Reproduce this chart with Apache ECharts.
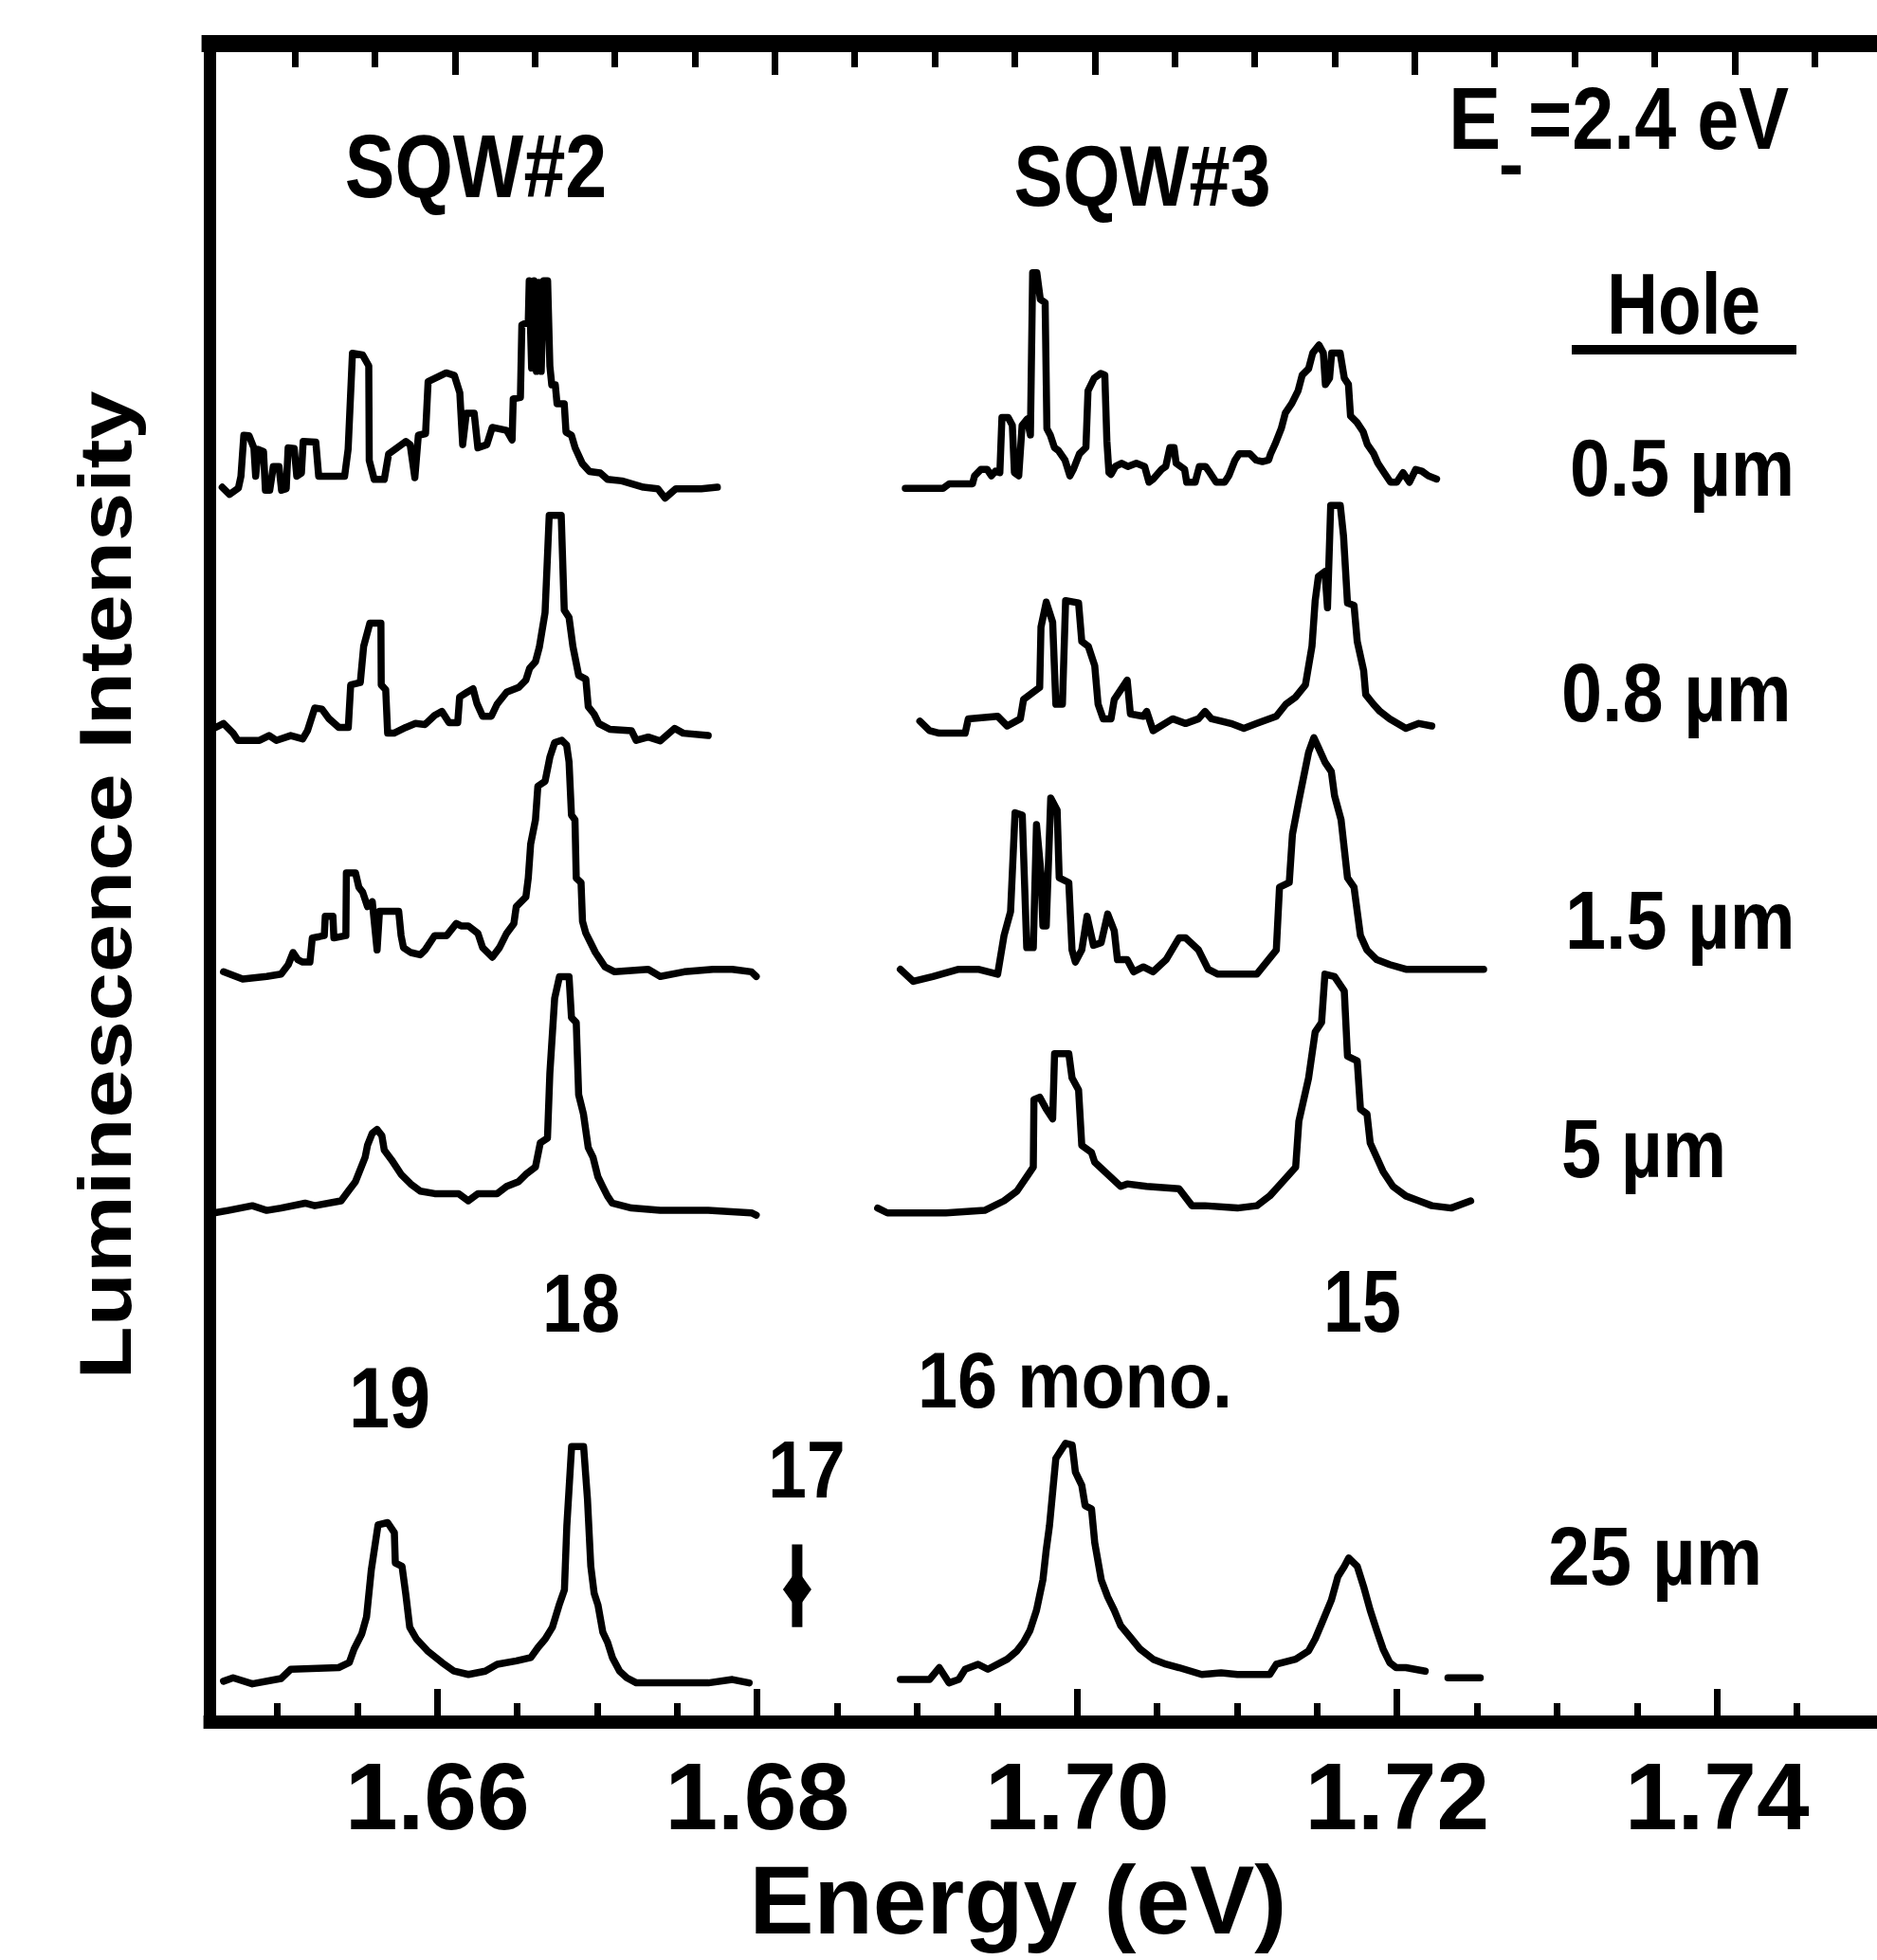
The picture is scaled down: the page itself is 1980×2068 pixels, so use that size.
<!DOCTYPE html>
<html>
<head>
<meta charset="utf-8">
<title>Luminescence spectra – SQW#2 / SQW#3</title>
<script src="https://cdn.jsdelivr.net/npm/echarts@6/dist/echarts.min.js"></script>
<style>
  html, body { margin: 0; padding: 0; background: #fff; }
  #chart { width: 1980px; height: 2068px; }
</style>
</head>
<body>
<div id="chart"></div>
<script>
// ---------------------------------------------------------------
// Spectra: [energy (eV), intensity above the row baseline (a.u.)]
// ---------------------------------------------------------------
const holeSizes = ['0.5 µm', '0.8 µm', '1.5 µm', '5 µm', '25 µm'];
const rowOffsets = [73.45, 58.9, 44.6, 30.3, 2.25];

const sqw2_05 = [
  [1.64656, 0.09], [1.64701, -0.34], [1.64757, 0.04], [1.64773, 0.75], [1.64791, 3.19],
  [1.64824, 3.16], [1.64854, 2.44], [1.64865, 0.75], [1.64881, 2.35], [1.64914, 2.22],
  [1.64926, -0.09], [1.64953, -0.09], [1.64975, 1.32], [1.65011, 1.32], [1.65027, -0.09],
  [1.65056, 0.0], [1.65068, 2.44], [1.65106, 2.40], [1.65122, 0.75], [1.65151, 0.94],
  [1.65162, 2.82], [1.65241, 2.78], [1.65259, 0.75], [1.65421, 0.75], [1.65443, 2.35],
  [1.65470, 8.08], [1.65533, 7.99], [1.65572, 7.33], [1.65575, 1.69], [1.65606, 0.56],
  [1.65669, 0.56], [1.65696, 2.07], [1.65804, 2.82], [1.65831, 2.63], [1.65860, 0.66],
  [1.65882, 3.19], [1.65927, 3.29], [1.65943, 6.39], [1.66056, 6.91], [1.66107, 6.76],
  [1.66141, 5.73], [1.66159, 2.63], [1.66182, 4.51], [1.66231, 4.51], [1.66254, 2.44],
  [1.66310, 2.63], [1.66344, 3.66], [1.66434, 3.48], [1.66468, 2.91], [1.66475, 5.36],
  [1.66520, 5.45], [1.66529, 9.77], [1.66569, 9.96], [1.66575, 12.40], [1.66590, 7.20],
  [1.66605, 12.40], [1.66620, 7.00], [1.66635, 12.30], [1.66650, 7.00], [1.66665, 12.40],
  [1.66690, 12.40], [1.66704, 7.33], [1.66716, 6.20], [1.66738, 6.20], [1.66749, 5.07],
  [1.66794, 5.07], [1.66805, 3.38], [1.66839, 3.19], [1.66862, 2.44], [1.66907, 1.50],
  [1.66952, 1.03], [1.67019, 0.94], [1.67064, 0.56], [1.67154, 0.47], [1.67289, 0.09],
  [1.67379, 0.0], [1.67424, -0.56], [1.67492, 0.0], [1.67650, 0.0], [1.67751, 0.09]
];

const sqw3_05 = [
  [1.68926, 0.02], [1.69162, 0.02], [1.69201, 0.30], [1.69346, 0.30], [1.69359, 0.77],
  [1.69398, 1.15], [1.69438, 1.15], [1.69464, 0.77], [1.69490, 1.05], [1.69517, 0.96],
  [1.69530, 4.25], [1.69569, 4.25], [1.69595, 3.78], [1.69608, 0.96], [1.69635, 0.77],
  [1.69656, 3.78], [1.69687, 4.15], [1.69708, 3.21], [1.69722, 12.89], [1.69748, 12.89],
  [1.69770, 11.29], [1.69800, 11.10], [1.69811, 3.59], [1.69832, 3.21], [1.69858, 2.46],
  [1.69884, 2.27], [1.69924, 1.71], [1.69955, 0.77], [1.69976, 1.15], [1.70015, 2.09],
  [1.70055, 2.46], [1.70068, 5.84], [1.70107, 6.60], [1.70147, 6.88], [1.70173, 6.78],
  [1.70186, 2.84], [1.70199, 0.96], [1.70212, 0.86], [1.70239, 1.33], [1.70278, 1.52],
  [1.70317, 1.33], [1.70370, 1.52], [1.70422, 1.33], [1.70449, 0.39], [1.70475, 0.58],
  [1.70528, 1.15], [1.70554, 1.33], [1.70580, 2.46], [1.70606, 2.46], [1.70619, 1.52],
  [1.70672, 1.15], [1.70685, 0.39], [1.70738, 0.39], [1.70764, 1.33], [1.70803, 1.33],
  [1.70830, 0.96], [1.70869, 0.39], [1.70922, 0.39], [1.70948, 0.77], [1.70987, 1.71],
  [1.71013, 2.09], [1.71079, 2.09], [1.71118, 1.71], [1.71158, 1.62], [1.71197, 1.71],
  [1.71210, 2.09], [1.71237, 2.65], [1.71276, 3.59], [1.71302, 4.53], [1.71342, 5.09],
  [1.71381, 5.84], [1.71407, 6.78], [1.71447, 7.16], [1.71473, 8.10], [1.71512, 8.57],
  [1.71539, 8.10], [1.71552, 6.22], [1.71578, 6.60], [1.71591, 8.10], [1.71644, 8.10],
  [1.71670, 6.60], [1.71696, 6.22], [1.71709, 4.34], [1.71749, 3.96], [1.71788, 3.40],
  [1.71814, 2.65], [1.71854, 2.09], [1.71880, 1.52], [1.71919, 0.96], [1.71959, 0.39],
  [1.71998, 0.39], [1.72037, 0.96], [1.72077, 0.39], [1.72116, 1.15], [1.72155, 1.05],
  [1.72195, 0.77], [1.72247, 0.58]
];

const sqw2_08 = [
  [1.64604, 0.26], [1.64664, 0.55], [1.64724, -0.03], [1.64754, -0.46], [1.64889, -0.46],
  [1.64949, -0.17], [1.64994, -0.46], [1.65084, -0.17], [1.65159, -0.37], [1.65189, 0.12],
  [1.65234, 1.47], [1.65279, 1.41], [1.65324, 0.83], [1.65384, 0.32], [1.65444, 0.32],
  [1.65459, 2.85], [1.65519, 2.99], [1.65540, 5.15], [1.65579, 6.53], [1.65648, 6.53],
  [1.65650, 2.85], [1.65678, 2.56], [1.65690, -0.03], [1.65729, -0.03], [1.65804, 0.32],
  [1.65864, 0.55], [1.65924, 0.49], [1.65984, 1.04], [1.66029, 1.27], [1.66074, 0.60],
  [1.66128, 0.60], [1.66140, 2.13], [1.66188, 2.42], [1.66224, 2.62], [1.66248, 1.75],
  [1.66284, 0.98], [1.66338, 0.98], [1.66374, 1.70], [1.66434, 2.42], [1.66509, 2.70],
  [1.66554, 3.13], [1.66578, 3.85], [1.66614, 4.23], [1.66638, 5.09], [1.66674, 7.16],
  [1.66700, 12.97], [1.66775, 12.97], [1.66794, 7.31], [1.66824, 6.87], [1.66848, 5.15],
  [1.66884, 3.42], [1.66929, 3.19], [1.66944, 1.55], [1.66980, 1.12], [1.67010, 0.55],
  [1.67079, 0.20], [1.67214, 0.12], [1.67244, -0.46], [1.67319, -0.26], [1.67394, -0.49],
  [1.67484, 0.26], [1.67538, -0.03], [1.67694, -0.17]
];

const sqw3_08 = [
  [1.69017, 0.69], [1.69077, 0.12], [1.69138, -0.03], [1.69300, -0.03], [1.69320, 0.83],
  [1.69503, 0.98], [1.69563, 0.40], [1.69645, 0.83], [1.69665, 1.98], [1.69726, 2.42],
  [1.69766, 2.70], [1.69774, 6.30], [1.69807, 7.79], [1.69847, 6.59], [1.69867, 1.70],
  [1.69908, 1.70], [1.69928, 7.88], [1.70009, 7.74], [1.70029, 5.44], [1.70070, 5.15],
  [1.70110, 4.00], [1.70131, 1.70], [1.70163, 0.83], [1.70212, 0.83], [1.70232, 1.98],
  [1.70313, 3.13], [1.70333, 1.12], [1.70414, 0.98], [1.70435, 1.27], [1.70475, 0.12],
  [1.70597, 0.83], [1.70678, 0.55], [1.70759, 0.83], [1.70799, 1.27], [1.70840, 0.83],
  [1.70961, 0.55], [1.71042, 0.26], [1.71123, 0.55], [1.71245, 0.98], [1.71305, 1.70],
  [1.71366, 2.13], [1.71427, 2.85], [1.71468, 5.15], [1.71488, 7.88], [1.71508, 9.32],
  [1.71549, 9.61], [1.71565, 7.45], [1.71585, 13.55], [1.71645, 13.55], [1.71665, 11.76],
  [1.71690, 7.74], [1.71731, 7.59], [1.71751, 5.44], [1.71791, 3.71], [1.71804, 2.27],
  [1.71852, 1.70], [1.71893, 1.27], [1.71954, 0.83], [1.72055, 0.26], [1.72136, 0.55],
  [1.72217, 0.40]
];

const sqw2_15 = [
  [1.64664, 0.04], [1.64784, -0.39], [1.64934, -0.24], [1.65024, -0.10], [1.65069, 0.47],
  [1.65099, 1.19], [1.65129, 0.76], [1.65159, 0.62], [1.65204, 0.62], [1.65219, 2.06],
  [1.65264, 2.14], [1.65294, 2.20], [1.65300, 3.35], [1.65348, 3.35], [1.65354, 2.06],
  [1.65429, 2.20], [1.65432, 5.94], [1.65489, 5.94], [1.65510, 5.08], [1.65534, 4.79],
  [1.65564, 3.93], [1.65594, 4.22], [1.65624, 1.34], [1.65639, 3.65], [1.65759, 3.65],
  [1.65774, 2.20], [1.65789, 1.48], [1.65834, 1.19], [1.65894, 1.05], [1.65924, 1.34],
  [1.65984, 2.20], [1.66059, 2.20], [1.66119, 2.92], [1.66149, 2.78], [1.66194, 2.78],
  [1.66254, 2.34], [1.66284, 1.48], [1.66344, 0.91], [1.66389, 1.48], [1.66434, 2.34],
  [1.66479, 2.92], [1.66494, 3.93], [1.66554, 4.50], [1.66569, 5.63], [1.66584, 7.66],
  [1.66614, 9.10], [1.66629, 11.11], [1.66674, 11.40], [1.66704, 12.84], [1.66734, 13.71],
  [1.66779, 13.85], [1.66809, 13.56], [1.66824, 12.55], [1.66839, 9.39], [1.66861, 9.10],
  [1.66869, 5.63], [1.66899, 5.36], [1.66908, 3.06], [1.66929, 2.34], [1.66959, 1.77],
  [1.66989, 1.19], [1.67019, 0.76], [1.67049, 0.33], [1.67109, 0.04], [1.67319, 0.19],
  [1.67394, -0.24], [1.67544, 0.04], [1.67724, 0.19], [1.67844, 0.19], [1.67964, 0.04],
  [1.67994, -0.24]
];

const sqw3_15 = [
  [1.68895, 0.19], [1.68976, -0.53], [1.69098, -0.24], [1.69260, 0.19], [1.69381, 0.19],
  [1.69503, -0.10], [1.69543, 2.20], [1.69584, 3.64], [1.69612, 9.53], [1.69657, 9.39],
  [1.69685, 1.48], [1.69726, 1.48], [1.69746, 8.82], [1.69774, 5.94], [1.69786, 2.78],
  [1.69807, 2.78], [1.69835, 10.40], [1.69875, 9.68], [1.69888, 5.65], [1.69948, 5.36],
  [1.69968, 1.34], [1.69989, 0.62], [1.70029, 1.34], [1.70062, 3.35], [1.70102, 1.62],
  [1.70150, 1.77], [1.70191, 3.49], [1.70232, 2.49], [1.70252, 0.76], [1.70313, 0.76],
  [1.70353, 0.04], [1.70414, 0.33], [1.70475, 0.04], [1.70556, 0.76], [1.70637, 2.06],
  [1.70678, 2.06], [1.70759, 1.34], [1.70819, 0.19], [1.70880, -0.10], [1.71123, -0.10],
  [1.71184, 0.62], [1.71245, 1.34], [1.71265, 5.08], [1.71326, 5.36], [1.71346, 8.24],
  [1.71386, 10.25], [1.71447, 13.13], [1.71480, 14.00], [1.71508, 13.42], [1.71549, 12.55],
  [1.71589, 11.98], [1.71609, 10.54], [1.71650, 9.10], [1.71690, 5.65], [1.71731, 5.08],
  [1.71771, 2.20], [1.71812, 1.34], [1.71873, 0.76], [1.71954, 0.47], [1.72055, 0.19],
  [1.72217, 0.19], [1.72541, 0.19]
];

const sqw2_5 = [
  [1.64604, -0.04], [1.64694, 0.11], [1.64844, 0.39], [1.64934, 0.11], [1.65024, 0.25],
  [1.65174, 0.54], [1.65234, 0.39], [1.65399, 0.68], [1.65444, 1.26], [1.65489, 1.83],
  [1.65519, 2.55], [1.65549, 3.27], [1.65564, 3.99], [1.65594, 4.71], [1.65624, 4.94],
  [1.65654, 4.56], [1.65669, 3.70], [1.65714, 3.13], [1.65774, 2.26], [1.65834, 1.69],
  [1.65894, 1.26], [1.65984, 1.11], [1.66134, 1.11], [1.66194, 0.68], [1.66254, 1.11],
  [1.66374, 1.11], [1.66434, 1.54], [1.66509, 1.83], [1.66554, 2.26], [1.66614, 2.70],
  [1.66644, 4.13], [1.66689, 4.42], [1.66704, 8.30], [1.66734, 12.76], [1.66764, 14.05],
  [1.66824, 14.05], [1.66839, 11.61], [1.66869, 11.32], [1.66884, 7.01], [1.66914, 5.86],
  [1.66944, 3.85], [1.66974, 3.27], [1.67004, 2.12], [1.67034, 1.54], [1.67064, 0.97],
  [1.67094, 0.54], [1.67214, 0.25], [1.67394, 0.11], [1.67694, 0.11], [1.67964, -0.04],
  [1.67994, -0.18]
];

const sqw3_5 = [
  [1.68753, 0.25], [1.68814, -0.04], [1.68976, -0.04], [1.69179, -0.04], [1.69422, 0.11],
  [1.69543, 0.68], [1.69624, 1.26], [1.69685, 2.12], [1.69726, 2.69], [1.69730, 6.72],
  [1.69766, 6.86], [1.69807, 6.15], [1.69847, 5.57], [1.69859, 9.45], [1.69948, 9.45],
  [1.69968, 8.01], [1.70009, 7.29], [1.70029, 3.99], [1.70090, 3.56], [1.70110, 2.98],
  [1.70191, 2.26], [1.70272, 1.54], [1.70313, 1.69], [1.70434, 1.54], [1.70637, 1.40],
  [1.70718, 0.39], [1.70799, 0.39], [1.71002, 0.25], [1.71123, 0.39], [1.71204, 0.97],
  [1.71285, 1.83], [1.71366, 2.69], [1.71386, 5.43], [1.71447, 8.01], [1.71488, 10.75],
  [1.71528, 11.32], [1.71549, 14.20], [1.71609, 14.06], [1.71670, 13.19], [1.71690, 9.31],
  [1.71751, 9.02], [1.71771, 6.15], [1.71812, 5.86], [1.71832, 4.13], [1.71873, 3.27],
  [1.71913, 2.42], [1.71974, 1.54], [1.72055, 0.97], [1.72136, 0.68], [1.72217, 0.39],
  [1.72338, 0.25], [1.72460, 0.68]
];

const sqw2_25 = [
  [1.64664, 0.08], [1.64724, 0.28], [1.64844, -0.08], [1.65024, 0.24], [1.65084, 0.79],
  [1.65384, 0.89], [1.65450, 1.19], [1.65480, 1.99], [1.65528, 2.90], [1.65558, 3.91],
  [1.65588, 6.73], [1.65630, 9.40], [1.65690, 9.54], [1.65732, 8.94], [1.65738, 7.13],
  [1.65780, 6.93], [1.65804, 5.23], [1.65828, 3.30], [1.65870, 2.60], [1.65939, 1.89],
  [1.66030, 1.19], [1.66105, 0.68], [1.66195, 0.48], [1.66300, 0.68], [1.66375, 1.09],
  [1.66495, 1.29], [1.66585, 1.49], [1.66630, 2.09], [1.66675, 2.60], [1.66720, 3.30],
  [1.66765, 4.71], [1.66795, 5.52], [1.66810, 9.34], [1.66840, 14.07], [1.66915, 14.07],
  [1.66939, 10.95], [1.66960, 6.93], [1.66981, 5.32], [1.67005, 4.61], [1.67035, 3.00],
  [1.67065, 2.40], [1.67095, 1.49], [1.67140, 0.68], [1.67185, 0.28], [1.67245, -0.02],
  [1.67695, -0.02], [1.67845, 0.18], [1.67950, -0.02]
];

const sqw3_25 = [
  [1.68895, 0.18], [1.69077, 0.18], [1.69138, 0.89], [1.69199, -0.02], [1.69260, 0.18],
  [1.69300, 0.79], [1.69381, 1.09], [1.69442, 0.79], [1.69523, 1.19], [1.69563, 1.39],
  [1.69624, 1.89], [1.69665, 2.40], [1.69705, 3.10], [1.69746, 4.31], [1.69786, 6.12],
  [1.69807, 7.93], [1.69827, 9.34], [1.69867, 13.37], [1.69928, 14.27], [1.69969, 14.17],
  [1.69989, 12.56], [1.70029, 11.76], [1.70050, 10.55], [1.70090, 10.35], [1.70110, 8.34],
  [1.70151, 6.12], [1.70191, 5.11], [1.70232, 4.31], [1.70272, 3.40], [1.70333, 2.70],
  [1.70394, 1.99], [1.70475, 1.39], [1.70556, 1.09], [1.70637, 0.89], [1.70779, 0.48],
  [1.70900, 0.58], [1.71002, 0.48], [1.71204, 0.48], [1.71245, 1.09], [1.71366, 1.39],
  [1.71447, 1.89], [1.71488, 2.60], [1.71528, 3.50], [1.71589, 4.91], [1.71630, 6.32],
  [1.71670, 6.93], [1.71698, 7.43], [1.71751, 6.93], [1.71791, 5.72], [1.71832, 4.31],
  [1.71873, 3.10], [1.71913, 1.99], [1.71954, 1.19], [1.71994, 0.89], [1.72055, 0.89],
  [1.72176, 0.68], [1.72250, null], [1.72318, 0.28], [1.72520, 0.28]
];

// Position of the (absent) 17-monolayer line in the 25 µm spectrum
const peak17Energy = 1.6825;
const peak17Range = [5.55, 10.49];
const peak17Mark = 7.8;

// Energy axis
const energyMin = 1.6458;
const energyMax = 1.75;
const topAxisShift = 0.0011;
const majorTicks = [1.66, 1.68, 1.70, 1.72, 1.74];
const minorTicks = [1.65, 1.655, 1.665, 1.67, 1.675, 1.685, 1.69, 1.695,
                    1.705, 1.71, 1.715, 1.725, 1.73, 1.735, 1.745];

const rowsSQW2 = [sqw2_05, sqw2_08, sqw2_15, sqw2_5, sqw2_25];
const rowsSQW3 = [sqw3_05, sqw3_08, sqw3_15, sqw3_5, sqw3_25];

// ---------------------------------------------------------------
const FONT = '"Liberation Sans", Arial, Helvetica, sans-serif';
const INK = '#000';

function stacked(points, offset) {
  return points.map(p => [p[0], p[1] === null ? null : +(p[1] + offset).toFixed(3)]);
}

function spectrumSeries(name, points, offset) {
  return {
    name: name,
    type: 'line',
    data: stacked(points, offset),
    showSymbol: false,
    symbol: 'none',
    connectNulls: false,
    silent: true,
    lineStyle: { color: INK, width: 7.5, join: 'round', cap: 'round' }
  };
}

const series = [];
holeSizes.forEach((h, i) => {
  series.push(spectrumSeries('SQW#2 ' + h, rowsSQW2[i], rowOffsets[i]));
  series.push(spectrumSeries('SQW#3 ' + h, rowsSQW3[i], rowOffsets[i]));
});

// marker of the 17 ML position
series.push({
  name: '17',
  type: 'line',
  data: [[peak17Energy, peak17Range[0]], [peak17Energy, peak17Range[1]]],
  showSymbol: false,
  symbol: 'none',
  silent: true,
  lineStyle: { color: INK, width: 11 }
});
series.push({
  name: '17 mark',
  type: 'scatter',
  data: [[peak17Energy, peak17Mark]],
  symbol: 'diamond',
  symbolSize: [30, 42],
  silent: true,
  itemStyle: { color: INK, opacity: 1 }
});

function tickAxis(position, min, max, values, len, showLine, lineWidth) {
  return {
    type: 'value',
    position: position,
    min: min,
    max: max,
    axisLine: { show: showLine, onZero: false, lineStyle: { color: INK, width: lineWidth, cap: 'square' } },
    axisTick: { show: true, inside: true, length: len, customValues: values,
                lineStyle: { color: INK, width: 7 } },
    axisLabel: { show: false },
    splitLine: { show: false }
  };
}

const bottomAxis = tickAxis('bottom', energyMin, energyMax, majorTicks, 35, true, 14);
bottomAxis.axisLabel = {
  show: true,
  customValues: majorTicks,
  formatter: v => v.toFixed(2),
  margin: 35,
  color: INK,
  fontFamily: FONT,
  fontWeight: 'bold',
  fontSize: 100
};
bottomAxis.name = 'Energy (eV)';
bottomAxis.nameLocation = 'middle';
bottomAxis.nameGap = 144;
bottomAxis.nameTextStyle = {
  color: INK, fontFamily: FONT, fontWeight: 'bold', fontSize: 102, padding: [0, 54, 0, 0]
};

const xAxes = [
  bottomAxis,
  tickAxis('bottom', energyMin, energyMax, minorTicks, 20, false, 0),
  tickAxis('top', energyMin - topAxisShift, energyMax - topAxisShift, majorTicks, 33, true, 18),
  tickAxis('top', energyMin - topAxisShift, energyMax - topAxisShift, minorTicks, 25, false, 0)
];

// text annotations
const annotations = [
  { text: 'SQW#2', x: 502, y: 182, size: 94, align: 'center', sx: 0.84 },
  { text: 'SQW#3', x: 1205, y: 192, size: 90, align: 'center', sx: 0.86 },
  { text: 'E', x: 1528, y: 132, size: 92, align: 'left', sx: 0.9 },
  { text: '-', x: 1594, y: 178, size: 80, align: 'center', sx: 1 },
  { text: '=2.4 eV', x: 1612, y: 132, size: 92, align: 'left', sx: 0.86 },
  { text: 'Hole', x: 1776, y: 327, size: 90, align: 'center', sx: 0.83 },
  { text: holeSizes[0], x: 1656, y: 499, size: 86, align: 'left', sx: 0.88 },
  { text: holeSizes[1], x: 1647, y: 737, size: 88, align: 'left', sx: 0.88 },
  { text: holeSizes[2], x: 1651, y: 977, size: 88, align: 'left', sx: 0.88 },
  { text: holeSizes[3], x: 1647, y: 1218, size: 88, align: 'left', sx: 0.86 },
  { text: holeSizes[4], x: 1633, y: 1648, size: 88, align: 'left', sx: 0.9 },
  { text: '18', x: 613, y: 1381, size: 88, align: 'center', sx: 0.84 },
  { text: '15', x: 1437, y: 1380, size: 92, align: 'center', sx: 0.8 },
  { text: '19', x: 411, y: 1481, size: 90, align: 'center', sx: 0.86 },
  { text: '16 mono.', x: 1134, y: 1462, size: 84, align: 'center', sx: 0.9 },
  { text: '17', x: 851, y: 1556, size: 86, align: 'center', sx: 0.85 }
];

const graphic = annotations.map(a => ({
  type: 'text',
  x: a.x,
  y: a.y,
  scaleX: a.sx,
  silent: true,
  style: {
    text: a.text,
    x: 0,
    y: 0,
    align: a.align,
    verticalAlign: 'middle',
    font: 'bold ' + a.size + 'px ' + FONT,
    fill: INK
  }
}));
// underline below "Hole"
graphic.push({
  type: 'line',
  silent: true,
  shape: { x1: 1658, y1: 369, x2: 1895, y2: 369 },
  style: { stroke: INK, lineWidth: 10 }
});
// intensity axis title, rotated to read upwards
graphic.push({
  type: 'text',
  x: 117,
  y: 934,
  rotation: Math.PI / 2,
  scaleY: 0.84,
  silent: true,
  style: {
    text: 'Luminescence Intensity',
    x: 0,
    y: 0,
    align: 'center',
    verticalAlign: 'middle',
    font: 'bold 92px ' + FONT,
    fill: INK
  }
});

const chart = echarts.init(document.getElementById('chart'), null, { renderer: 'canvas' });
chart.setOption({
  animation: false,
  backgroundColor: '#fff',
  grid: { left: 221.6, right: -13, top: 46, bottom: 246, containLabel: false },
  xAxis: xAxes,
  yAxis: {
    type: 'value',
    min: -0.11,
    max: 100,
    axisLine: { show: true, lineStyle: { color: INK, width: 13, cap: 'square' } },
    axisTick: { show: false },
    axisLabel: { show: false },
    splitLine: { show: false }
  },
  series: series,
  graphic: graphic
});
</script>
</body>
</html>
